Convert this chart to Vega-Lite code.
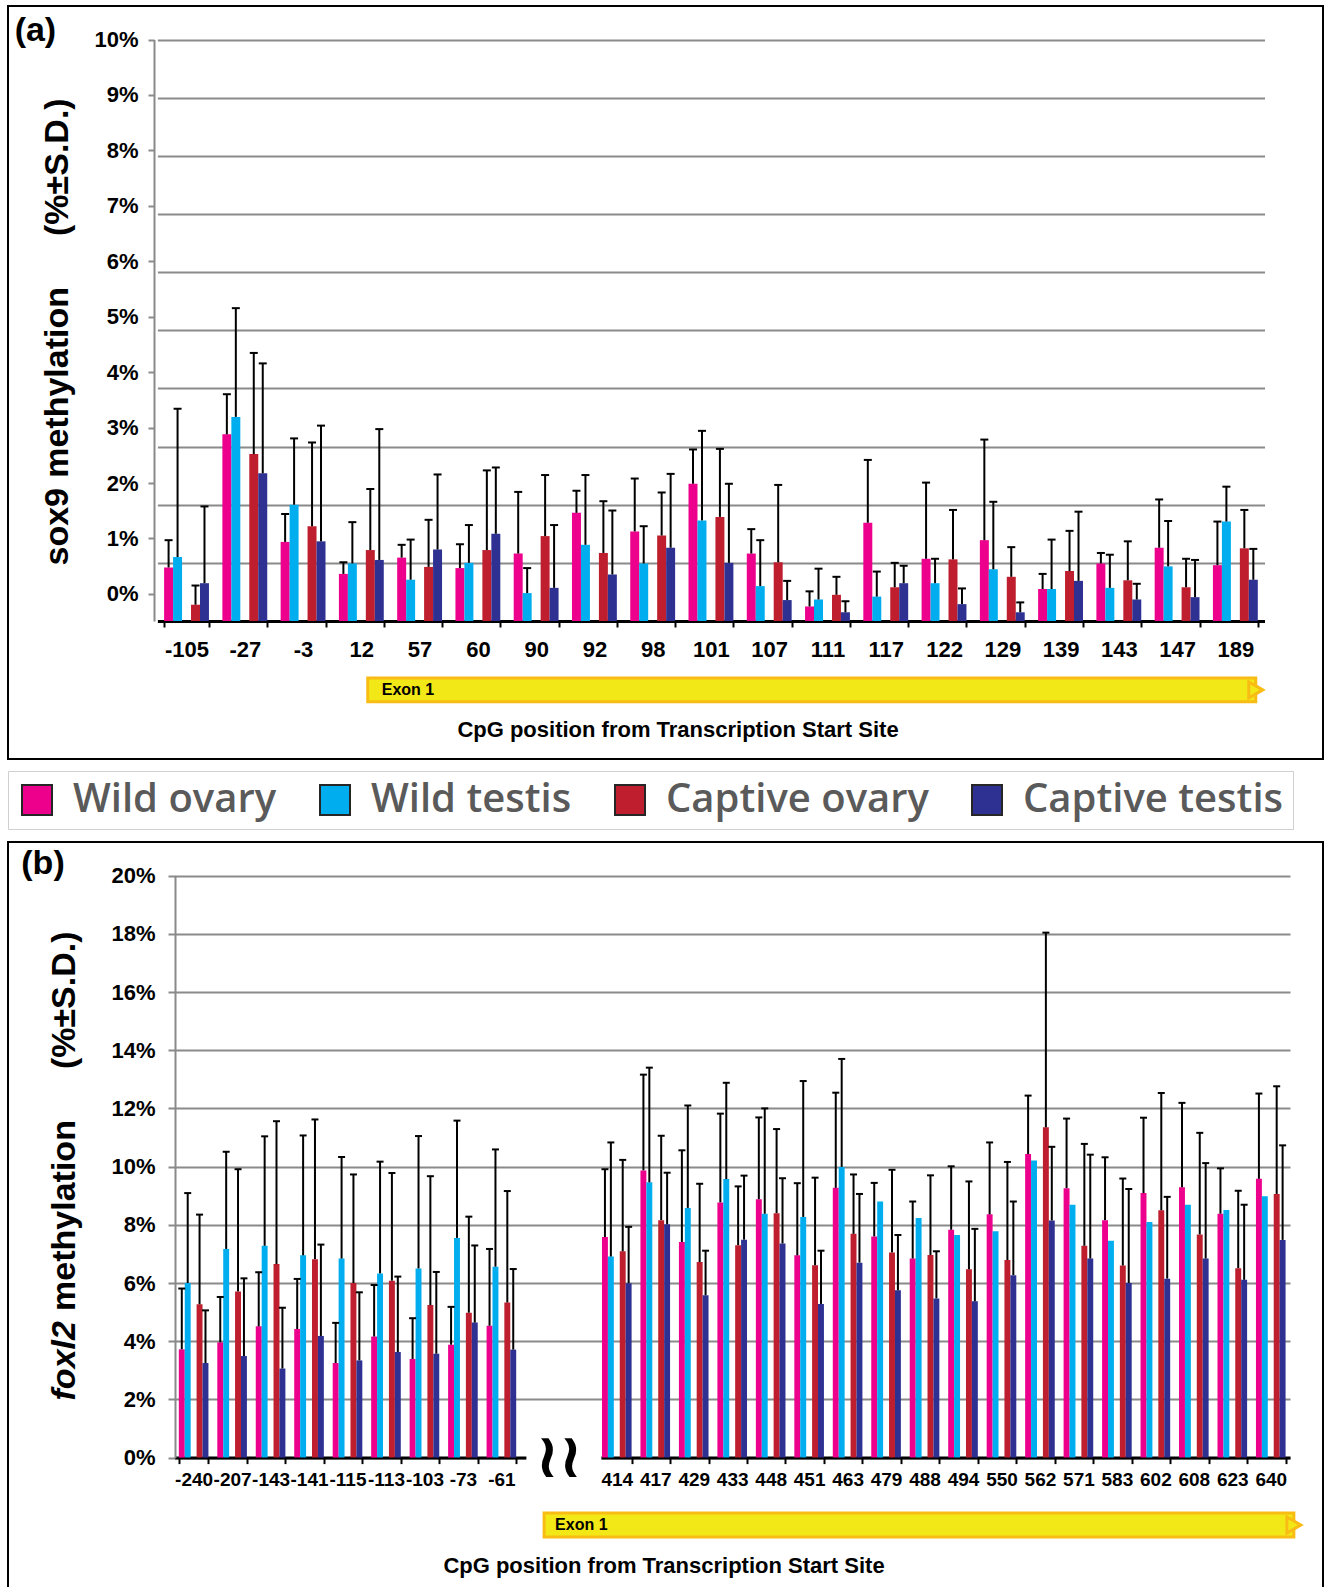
{
  "$schema": "https://vega.github.io/schema/vega-lite/v6.json",
  "padding": {"left": 7, "top": 5, "right": 0, "bottom": 0},
  "spacing": 81,
  "resolve": {"scale": {"xOffset": "independent"}},
  "datasets": {
    "sox9": [
      {"cpg":"-105","group":"Wild ovary","value":0.92,"upper":1.39},{"cpg":"-105","group":"Wild testis","value":1.10,"upper":3.65},{"cpg":"-105","group":"Captive ovary","value":0.28,"upper":0.61},{"cpg":"-105","group":"Captive testis","value":0.65,"upper":1.97},
      {"cpg":"-27","group":"Wild ovary","value":3.21,"upper":3.90},{"cpg":"-27","group":"Wild testis","value":3.51,"upper":5.38},{"cpg":"-27","group":"Captive ovary","value":2.87,"upper":4.61},{"cpg":"-27","group":"Captive testis","value":2.54,"upper":4.43},
      {"cpg":"-3","group":"Wild ovary","value":1.36,"upper":1.84},{"cpg":"-3","group":"Wild testis","value":2.00,"upper":3.14},{"cpg":"-3","group":"Captive ovary","value":1.63,"upper":3.07},{"cpg":"-3","group":"Captive testis","value":1.37,"upper":3.36},
      {"cpg":"12","group":"Wild ovary","value":0.81,"upper":1.01},{"cpg":"12","group":"Wild testis","value":0.99,"upper":1.70},{"cpg":"12","group":"Captive ovary","value":1.22,"upper":2.27},{"cpg":"12","group":"Captive testis","value":1.05,"upper":3.30},
      {"cpg":"57","group":"Wild ovary","value":1.09,"upper":1.31},{"cpg":"57","group":"Wild testis","value":0.71,"upper":1.40},{"cpg":"57","group":"Captive ovary","value":0.93,"upper":1.74},{"cpg":"57","group":"Captive testis","value":1.23,"upper":2.52},
      {"cpg":"60","group":"Wild ovary","value":0.91,"upper":1.32},{"cpg":"60","group":"Wild testis","value":1.00,"upper":1.65},{"cpg":"60","group":"Captive ovary","value":1.22,"upper":2.59},{"cpg":"60","group":"Captive testis","value":1.50,"upper":2.64},
      {"cpg":"90","group":"Wild ovary","value":1.16,"upper":2.22},{"cpg":"90","group":"Wild testis","value":0.48,"upper":0.91},{"cpg":"90","group":"Captive ovary","value":1.46,"upper":2.51},{"cpg":"90","group":"Captive testis","value":0.57,"upper":1.65},
      {"cpg":"92","group":"Wild ovary","value":1.86,"upper":2.24},{"cpg":"92","group":"Wild testis","value":1.31,"upper":2.51},{"cpg":"92","group":"Captive ovary","value":1.17,"upper":2.06},{"cpg":"92","group":"Captive testis","value":0.80,"upper":1.90},
      {"cpg":"98","group":"Wild ovary","value":1.54,"upper":2.45},{"cpg":"98","group":"Wild testis","value":0.99,"upper":1.63},{"cpg":"98","group":"Captive ovary","value":1.47,"upper":2.21},{"cpg":"98","group":"Captive testis","value":1.26,"upper":2.53},
      {"cpg":"101","group":"Wild ovary","value":2.36,"upper":2.95},{"cpg":"101","group":"Wild testis","value":1.73,"upper":3.27},{"cpg":"101","group":"Captive ovary","value":1.79,"upper":2.96},{"cpg":"101","group":"Captive testis","value":1.00,"upper":2.36},
      {"cpg":"107","group":"Wild ovary","value":1.16,"upper":1.58},{"cpg":"107","group":"Wild testis","value":0.60,"upper":1.39},{"cpg":"107","group":"Captive ovary","value":1.01,"upper":2.34},{"cpg":"107","group":"Captive testis","value":0.36,"upper":0.69},
      {"cpg":"111","group":"Wild ovary","value":0.25,"upper":0.51},{"cpg":"111","group":"Wild testis","value":0.37,"upper":0.90},{"cpg":"111","group":"Captive ovary","value":0.45,"upper":0.76},{"cpg":"111","group":"Captive testis","value":0.15,"upper":0.34},
      {"cpg":"117","group":"Wild ovary","value":1.69,"upper":2.77},{"cpg":"117","group":"Wild testis","value":0.42,"upper":0.85},{"cpg":"117","group":"Captive ovary","value":0.58,"upper":1.00},{"cpg":"117","group":"Captive testis","value":0.65,"upper":0.95},
      {"cpg":"122","group":"Wild ovary","value":1.07,"upper":2.38},{"cpg":"122","group":"Wild testis","value":0.65,"upper":1.07},{"cpg":"122","group":"Captive ovary","value":1.06,"upper":1.91},{"cpg":"122","group":"Captive testis","value":0.29,"upper":0.56},
      {"cpg":"129","group":"Wild ovary","value":1.39,"upper":3.12},{"cpg":"129","group":"Wild testis","value":0.89,"upper":2.05},{"cpg":"129","group":"Captive ovary","value":0.76,"upper":1.27},{"cpg":"129","group":"Captive testis","value":0.15,"upper":0.32},
      {"cpg":"139","group":"Wild ovary","value":0.55,"upper":0.81},{"cpg":"139","group":"Wild testis","value":0.55,"upper":1.40},{"cpg":"139","group":"Captive ovary","value":0.86,"upper":1.55},{"cpg":"139","group":"Captive testis","value":0.69,"upper":1.88},
      {"cpg":"143","group":"Wild ovary","value":0.99,"upper":1.17},{"cpg":"143","group":"Wild testis","value":0.57,"upper":1.14},{"cpg":"143","group":"Captive ovary","value":0.70,"upper":1.37},{"cpg":"143","group":"Captive testis","value":0.37,"upper":0.64},
      {"cpg":"147","group":"Wild ovary","value":1.26,"upper":2.09},{"cpg":"147","group":"Wild testis","value":0.94,"upper":1.72},{"cpg":"147","group":"Captive ovary","value":0.58,"upper":1.07},{"cpg":"147","group":"Captive testis","value":0.41,"upper":1.05},
      {"cpg":"189","group":"Wild ovary","value":0.96,"upper":1.71},{"cpg":"189","group":"Wild testis","value":1.71,"upper":2.31},{"cpg":"189","group":"Captive ovary","value":1.25,"upper":1.91},{"cpg":"189","group":"Captive testis","value":0.71,"upper":1.24}
    ],
    "foxl2": [
      {"cpg":"-240","group":"Wild ovary","value":3.72,"upper":5.81},{"cpg":"-240","group":"Wild testis","value":6.00,"upper":9.09},{"cpg":"-240","group":"Captive ovary","value":5.27,"upper":8.35},{"cpg":"-240","group":"Captive testis","value":3.25,"upper":5.06},
      {"cpg":"-207","group":"Wild ovary","value":3.96,"upper":5.52},{"cpg":"-207","group":"Wild testis","value":7.17,"upper":10.51},{"cpg":"-207","group":"Captive ovary","value":5.71,"upper":9.91},{"cpg":"-207","group":"Captive testis","value":3.49,"upper":6.16},
      {"cpg":"-143","group":"Wild ovary","value":4.51,"upper":6.37},{"cpg":"-143","group":"Wild testis","value":7.28,"upper":11.04},{"cpg":"-143","group":"Captive ovary","value":6.65,"upper":11.56},{"cpg":"-143","group":"Captive testis","value":3.06,"upper":5.15},
      {"cpg":"-141","group":"Wild ovary","value":4.42,"upper":6.14},{"cpg":"-141","group":"Wild testis","value":6.95,"upper":11.07},{"cpg":"-141","group":"Captive ovary","value":6.82,"upper":11.62},{"cpg":"-141","group":"Captive testis","value":4.18,"upper":7.32},
      {"cpg":"-115","group":"Wild ovary","value":3.25,"upper":4.63},{"cpg":"-115","group":"Wild testis","value":6.84,"upper":10.33},{"cpg":"-115","group":"Captive ovary","value":6.00,"upper":9.73},{"cpg":"-115","group":"Captive testis","value":3.34,"upper":5.68},
      {"cpg":"-113","group":"Wild ovary","value":4.16,"upper":5.93},{"cpg":"-113","group":"Wild testis","value":6.33,"upper":10.17},{"cpg":"-113","group":"Captive ovary","value":6.08,"upper":9.78},{"cpg":"-113","group":"Captive testis","value":3.63,"upper":6.22},
      {"cpg":"-103","group":"Wild ovary","value":3.39,"upper":4.79},{"cpg":"-103","group":"Wild testis","value":6.50,"upper":11.05},{"cpg":"-103","group":"Captive ovary","value":5.24,"upper":9.67},{"cpg":"-103","group":"Captive testis","value":3.57,"upper":6.38},
      {"cpg":"-73","group":"Wild ovary","value":3.88,"upper":5.18},{"cpg":"-73","group":"Wild testis","value":7.55,"upper":11.58},{"cpg":"-73","group":"Captive ovary","value":4.98,"upper":8.28},{"cpg":"-73","group":"Captive testis","value":4.64,"upper":7.29},
      {"cpg":"-61","group":"Wild ovary","value":4.53,"upper":7.17},{"cpg":"-61","group":"Wild testis","value":6.56,"upper":10.59},{"cpg":"-61","group":"Captive ovary","value":5.33,"upper":9.16},{"cpg":"-61","group":"Captive testis","value":3.71,"upper":6.48},
      {"cpg":"414","group":"Wild ovary","value":7.58,"upper":9.91},{"cpg":"414","group":"Wild testis","value":6.91,"upper":10.83},{"cpg":"414","group":"Captive ovary","value":7.09,"upper":10.23},{"cpg":"414","group":"Captive testis","value":5.99,"upper":7.93},
      {"cpg":"417","group":"Wild ovary","value":9.87,"upper":13.16},{"cpg":"417","group":"Wild testis","value":9.46,"upper":13.40},{"cpg":"417","group":"Captive ovary","value":8.16,"upper":11.06},{"cpg":"417","group":"Captive testis","value":8.02,"upper":9.79},
      {"cpg":"429","group":"Wild ovary","value":7.41,"upper":10.56},{"cpg":"429","group":"Wild testis","value":8.58,"upper":12.10},{"cpg":"429","group":"Captive ovary","value":6.72,"upper":9.41},{"cpg":"429","group":"Captive testis","value":5.58,"upper":7.11},
      {"cpg":"433","group":"Wild ovary","value":8.77,"upper":11.82},{"cpg":"433","group":"Wild testis","value":9.57,"upper":12.88},{"cpg":"433","group":"Captive ovary","value":7.30,"upper":9.32},{"cpg":"433","group":"Captive testis","value":7.49,"upper":9.69},
      {"cpg":"448","group":"Wild ovary","value":8.88,"upper":11.69},{"cpg":"448","group":"Wild testis","value":8.38,"upper":12.00},{"cpg":"448","group":"Captive ovary","value":8.40,"upper":11.29},{"cpg":"448","group":"Captive testis","value":7.36,"upper":9.60},
      {"cpg":"451","group":"Wild ovary","value":6.95,"upper":9.43},{"cpg":"451","group":"Wild testis","value":8.27,"upper":12.94},{"cpg":"451","group":"Captive ovary","value":6.61,"upper":9.62},{"cpg":"451","group":"Captive testis","value":5.28,"upper":7.11},
      {"cpg":"463","group":"Wild ovary","value":9.27,"upper":12.54},{"cpg":"463","group":"Wild testis","value":9.99,"upper":13.70},{"cpg":"463","group":"Captive ovary","value":7.69,"upper":9.73},{"cpg":"463","group":"Captive testis","value":6.70,"upper":9.06},
      {"cpg":"479","group":"Wild ovary","value":7.60,"upper":9.44},{"cpg":"479","group":"Wild testis","value":8.80,"upper":null},{"cpg":"479","group":"Captive ovary","value":7.05,"upper":9.89},{"cpg":"479","group":"Captive testis","value":5.75,"upper":7.65},
      {"cpg":"488","group":"Wild ovary","value":6.84,"upper":8.80},{"cpg":"488","group":"Wild testis","value":8.23,"upper":null},{"cpg":"488","group":"Captive ovary","value":6.96,"upper":9.70},{"cpg":"488","group":"Captive testis","value":5.47,"upper":7.09},
      {"cpg":"494","group":"Wild ovary","value":7.83,"upper":10.01},{"cpg":"494","group":"Wild testis","value":7.65,"upper":null},{"cpg":"494","group":"Captive ovary","value":6.47,"upper":9.49},{"cpg":"494","group":"Captive testis","value":5.37,"upper":7.86},
      {"cpg":"550","group":"Wild ovary","value":8.36,"upper":10.83},{"cpg":"550","group":"Wild testis","value":7.78,"upper":null},{"cpg":"550","group":"Captive ovary","value":6.79,"upper":10.16},{"cpg":"550","group":"Captive testis","value":6.27,"upper":8.80},
      {"cpg":"562","group":"Wild ovary","value":10.43,"upper":12.44},{"cpg":"562","group":"Wild testis","value":10.21,"upper":null},{"cpg":"562","group":"Captive ovary","value":11.35,"upper":18.04},{"cpg":"562","group":"Captive testis","value":8.15,"upper":10.68},
      {"cpg":"571","group":"Wild ovary","value":9.26,"upper":11.65},{"cpg":"571","group":"Wild testis","value":8.69,"upper":null},{"cpg":"571","group":"Captive ovary","value":7.28,"upper":10.78},{"cpg":"571","group":"Captive testis","value":6.84,"upper":10.41},
      {"cpg":"583","group":"Wild ovary","value":8.16,"upper":10.32},{"cpg":"583","group":"Wild testis","value":7.45,"upper":null},{"cpg":"583","group":"Captive ovary","value":6.60,"upper":9.59},{"cpg":"583","group":"Captive testis","value":6.00,"upper":9.23},
      {"cpg":"602","group":"Wild ovary","value":9.09,"upper":11.68},{"cpg":"602","group":"Wild testis","value":8.10,"upper":null},{"cpg":"602","group":"Captive ovary","value":8.50,"upper":12.53},{"cpg":"602","group":"Captive testis","value":6.15,"upper":8.96},
      {"cpg":"608","group":"Wild ovary","value":9.29,"upper":12.19},{"cpg":"608","group":"Wild testis","value":8.69,"upper":null},{"cpg":"608","group":"Captive ovary","value":7.67,"upper":11.16},{"cpg":"608","group":"Captive testis","value":6.84,"upper":10.12},
      {"cpg":"623","group":"Wild ovary","value":8.38,"upper":9.94},{"cpg":"623","group":"Wild testis","value":8.51,"upper":null},{"cpg":"623","group":"Captive ovary","value":6.51,"upper":9.17},{"cpg":"623","group":"Captive testis","value":6.11,"upper":8.69},
      {"cpg":"640","group":"Wild ovary","value":9.58,"upper":12.51},{"cpg":"640","group":"Wild testis","value":8.98,"upper":null},{"cpg":"640","group":"Captive ovary","value":9.06,"upper":12.76},{"cpg":"640","group":"Captive testis","value":7.48,"upper":10.73}
    ]
  },
  "config": {
    "view": {"stroke": "#000000", "strokeWidth": 2},
    "font": "Liberation Sans",
    "axis": {"labelFont": "Liberation Sans", "labelFontWeight": "bold", "labelColor": "#000000", "titleFont": "Liberation Sans", "titleFontWeight": "bold", "titleColor": "#000000"}
  },
  "vconcat": [
    {
      "width": 1315,
      "height": 753,
      "layer": [
        {
          "data": {"name": "sox9"},
          "encoding": {
            "x": {"field": "cpg", "type": "nominal",
              "scale": {"domain": ["-105","-27","-3","12","57","60","90","92","98","101","107","111","117","122","129","139","143","147","189"], "range": [149.4, 1256.5], "paddingInner": 0.23, "paddingOuter": 0.115},
              "axis": {"orient": "bottom", "offset": -138, "domainColor": "#000000", "domainWidth": 3, "tickColor": "#000000", "tickWidth": 2, "tickSize": 6, "tickBand": "extent", "labelAngle": 0, "labelFontSize": 22, "labelPadding": 12, "labelOverlap": false, "grid": false,
                "title": "CpG position from Transcription Start Site", "titleFontSize": 22, "titleX": 669.5, "titleY": 108, "titleAlign": "center", "titleBaseline": "middle"}},
            "xOffset": {"field": "group", "type": "nominal", "scale": {"domain": ["Wild ovary","Wild testis","gap","Captive ovary","Captive testis"], "paddingInner": 0, "paddingOuter": 0}}
          },
          "layer": [
            {
              "mark": {"type": "bar"},
              "encoding": {
                "y": {"field": "value", "type": "quantitative", "scale": {"domain": [0, 10], "range": [615, 33.5], "nice": false},
                  "axis": {"orient": "left", "offset": -146, "values": [1,2,3,4,5,6,7,8,9,10], "grid": true, "gridColor": "#8a8a8a", "gridWidth": 2, "domain": true, "domainColor": "#8a8a8a", "domainWidth": 2, "ticks": false, "labels": false,
                    "title": "sox9", "titleFontSize": 34, "titleX": -97, "titleY": 481.5, "titleAngle": -90, "titleAlign": "right", "titleBaseline": "middle"}},
                "color": {"field": "group", "type": "nominal",
                  "scale": {"domain": ["Wild ovary","Wild testis","Captive ovary","Captive testis"], "range": ["#EC008C","#00AEEF","#BE1E2D","#2E3192"]},
                  "legend": {"orient": "none", "legendX": 0, "legendY": 765, "direction": "horizontal", "columns": 4, "title": null, "symbolType": "square", "symbolSize": 900, "symbolStrokeColor": "#262626", "symbolStrokeWidth": 2, "symbolOpacity": 1, "labelFont": "Open Sans", "labelFontSize": 40, "labelFontWeight": 600, "labelColor": "#5a5a5a", "labelOffset": 16, "labelLimit": 0, "columnPadding": 38, "padding": 9, "strokeColor": "#d0d0d0"}}
              }
            },
            {
              "transform": [{"filter": "isValid(datum.upper)"}],
              "mark": {"type": "rule", "color": "#000000", "strokeWidth": 2},
              "encoding": {"y": {"field": "value", "type": "quantitative"}, "y2": {"field": "upper"}}
            },
            {
              "transform": [{"filter": "isValid(datum.upper)"}],
              "mark": {"type": "tick", "color": "#000000", "thickness": 2, "size": 8, "opacity": 1},
              "encoding": {"y": {"field": "upper", "type": "quantitative"}}
            }
          ]
        },
        {
          "data": {"values": [{"value": 0}]},
          "mark": {"type": "point", "opacity": 0},
          "encoding": {
            "y": {"field": "value", "type": "quantitative", "scale": {"domain": [-0.488, 10], "range": [615, 33.5], "nice": false, "zero": false},
              "axis": {"orient": "left", "offset": -146, "values": [0,1,2,3,4,5,6,7,8,9,10], "labelExpr": "datum.value + '%'", "grid": false, "domain": false, "ticks": true, "tickColor": "#8a8a8a", "tickWidth": 2, "tickSize": 6, "labelFontSize": 22, "labelPadding": 10,
                "title": "methylation\u2003\u2002(%±S.D.)", "titleFontSize": 34, "titleX": -97, "titleY": 471.3, "titleAngle": -90, "titleAlign": "left", "titleBaseline": "middle"}}
          }
        },
        {
          "data": {"values": [{"feature": "Exon 1", "start": 3.61, "end": 18.85, "panel": "(a)", "panelX": -2.45, "panelY": 10.44}]},
          "layer": [
            {
              "mark": {"type": "rect", "fill": "#F3E817", "stroke": "#F8BC14", "strokeWidth": 3},
              "encoding": {
                "x": {"field": "start", "type": "quantitative", "scale": {"domain": [0, 19], "range": [149.4, 1256.5], "nice": false, "zero": false}, "axis": null},
                "x2": {"field": "end"},
                "y": {"datum": -0.98, "type": "quantitative", "scale": {"domain": [0, 10], "range": [615, 33.5], "nice": false}, "axis": null},
                "y2": {"datum": -1.39}
              }
            },
            {
              "mark": {"type": "point", "shape": "triangle-right", "filled": true, "fill": "#F3E817", "stroke": "#F8BC14", "strokeWidth": 3, "size": 260, "opacity": 1},
              "encoding": {"x": {"field": "end", "type": "quantitative"}, "y": {"datum": -1.185, "type": "quantitative"}}
            },
            {
              "mark": {"type": "text", "align": "left", "baseline": "middle", "dx": 14, "fontSize": 16, "fontWeight": "bold", "font": "Liberation Sans", "color": "#000000"},
              "encoding": {"x": {"field": "start", "type": "quantitative"}, "y": {"datum": -1.185, "type": "quantitative"}, "text": {"field": "feature"}}
            },
            {
              "mark": {"type": "text", "align": "left", "baseline": "top", "fontSize": 34, "fontWeight": "bold", "font": "Liberation Sans", "color": "#000000"},
              "encoding": {"x": {"field": "panelX", "type": "quantitative"}, "y": {"field": "panelY", "type": "quantitative"}, "text": {"field": "panel"}}
            }
          ]
        }
      ],
      "resolve": {"scale": {"x": "independent", "y": "independent"}}
    },
    {
      "width": 1315,
      "height": 747,
      "layer": [
        {
          "data": {"name": "foxl2"},
          "encoding": {
            "x": {"field": "cpg", "type": "nominal",
              "scale": {"domain": ["-240","-207","-143","-141","-115","-113","-103","-73","-61","gap1","gap2","414","417","429","433","448","451","463","479","488","494","550","562","571","583","602","608","623","640"], "range": [166.4, 1282], "paddingInner": 0.23, "paddingOuter": 0.115},
              "axis": {"orient": "bottom", "offset": -131.4, "domainColor": "#000000", "domainWidth": 3, "tickColor": "#000000", "tickWidth": 2, "tickSize": 6, "tickBand": "extent", "labelAngle": 0, "labelFontSize": 19, "labelPadding": 7, "labelOverlap": false, "grid": false,
                "labelExpr": "indexof(datum.label, 'gap') == 0 ? '' : datum.label",
                "title": "CpG position from Transcription Start Site", "titleFontSize": 22, "titleX": 655.5, "titleY": 107.4, "titleAlign": "center", "titleBaseline": "middle"}},
            "xOffset": {"field": "group", "type": "nominal", "scale": {"domain": ["Wild ovary","Wild testis","gap","Captive ovary","Captive testis"], "paddingInner": 0, "paddingOuter": 0}}
          },
          "layer": [
            {
              "mark": {"type": "bar"},
              "encoding": {
                "y": {"field": "value", "type": "quantitative", "scale": {"domain": [0, 20], "range": [615.6, 33.6], "nice": false},
                  "axis": {"orient": "left", "offset": -167, "values": [0,2,4,6,8,10,12,14,16,18,20], "labelExpr": "datum.value + '%'", "grid": true, "gridColor": "#8a8a8a", "gridWidth": 2, "domain": true, "domainColor": "#8a8a8a", "domainWidth": 2, "ticks": true, "tickColor": "#8a8a8a", "tickWidth": 2, "tickSize": 7, "labelFontSize": 22, "labelPadding": 13,
                    "title": "foxl2", "titleFontStyle": "italic", "titleFontSize": 34, "titleX": -111, "titleY": 478.6, "titleAngle": -90, "titleAlign": "right", "titleBaseline": "middle"}},
                "color": {"field": "group", "type": "nominal",
                  "scale": {"domain": ["Wild ovary","Wild testis","Captive ovary","Captive testis"], "range": ["#EC008C","#00AEEF","#BE1E2D","#2E3192"]},
                  "legend": {"orient": "none", "legendX": 0, "legendY": 765, "direction": "horizontal", "columns": 4, "title": null, "symbolType": "square", "symbolSize": 900, "symbolStrokeColor": "#262626", "symbolStrokeWidth": 2, "symbolOpacity": 1, "labelFont": "Open Sans", "labelFontSize": 40, "labelFontWeight": 600, "labelColor": "#5a5a5a", "labelOffset": 16, "labelLimit": 0, "columnPadding": 38, "padding": 9, "strokeColor": "#d0d0d0"}}
              }
            },
            {
              "transform": [{"filter": "isValid(datum.upper)"}],
              "mark": {"type": "rule", "color": "#000000", "strokeWidth": 2},
              "encoding": {"y": {"field": "value", "type": "quantitative"}, "y2": {"field": "upper"}}
            },
            {
              "transform": [{"filter": "isValid(datum.upper)"}],
              "mark": {"type": "tick", "color": "#000000", "thickness": 2, "size": 7, "opacity": 1},
              "encoding": {"y": {"field": "upper", "type": "quantitative"}}
            }
          ]
        },
        {
          "data": {"values": [{"value": 0}]},
          "mark": {"type": "point", "opacity": 0},
          "encoding": {
            "y": {"field": "value", "type": "quantitative", "scale": {"domain": [0, 20], "range": [615.6, 33.6], "nice": false},
              "axis": {"orient": "left", "offset": -167, "labels": false, "ticks": false, "grid": false, "domain": false,
                "title": "methylation\u2003\u2002(%±S.D.)", "titleFontSize": 34, "titleX": -111, "titleY": 468.4, "titleAngle": -90, "titleAlign": "left", "titleBaseline": "middle"}}
          }
        },
        {
          "data": {"values": [{"feature": "Exon 1", "start": 9.61, "end": 29.1, "gapStart": 9.15, "gapEnd": 11.1, "breakAt": 10.0, "breakMark": "≀≀", "panel": "(b)", "panelX": -3.98, "panelY": 20.98}]},
          "layer": [
            {
              "mark": {"type": "rect", "fill": "#ffffff"},
              "encoding": {
                "x": {"field": "gapStart", "type": "quantitative", "scale": {"domain": [0, 29], "range": [166.4, 1282], "nice": false, "zero": false}, "axis": null},
                "x2": {"field": "gapEnd"},
                "y": {"datum": 0.12, "type": "quantitative", "scale": {"domain": [0, 20], "range": [615.6, 33.6], "nice": false}, "axis": null},
                "y2": {"datum": -0.3}
              }
            },
            {
              "mark": {"type": "text", "align": "center", "baseline": "middle", "fontSize": 62, "fontWeight": "bold", "font": "DejaVu Sans", "color": "#000000"},
              "encoding": {"x": {"field": "breakAt", "type": "quantitative"}, "y": {"datum": 0, "type": "quantitative"}, "text": {"field": "breakMark"}}
            },
            {
              "mark": {"type": "rect", "fill": "#F3E817", "stroke": "#F8BC14", "strokeWidth": 3},
              "encoding": {"x": {"field": "start", "type": "quantitative"}, "x2": {"field": "end"}, "y": {"datum": -1.9, "type": "quantitative"}, "y2": {"datum": -2.73}}
            },
            {
              "mark": {"type": "point", "shape": "triangle-right", "filled": true, "fill": "#F3E817", "stroke": "#F8BC14", "strokeWidth": 3, "size": 260, "opacity": 1},
              "encoding": {"x": {"field": "end", "type": "quantitative"}, "y": {"datum": -2.315, "type": "quantitative"}}
            },
            {
              "mark": {"type": "text", "align": "left", "baseline": "middle", "dx": 11, "fontSize": 16, "fontWeight": "bold", "font": "Liberation Sans", "color": "#000000"},
              "encoding": {"x": {"field": "start", "type": "quantitative"}, "y": {"datum": -2.315, "type": "quantitative"}, "text": {"field": "feature"}}
            },
            {
              "mark": {"type": "text", "align": "left", "baseline": "top", "fontSize": 34, "fontWeight": "bold", "font": "Liberation Sans", "color": "#000000"},
              "encoding": {"x": {"field": "panelX", "type": "quantitative"}, "y": {"field": "panelY", "type": "quantitative"}, "text": {"field": "panel"}}
            }
          ]
        }
      ],
      "resolve": {"scale": {"x": "independent", "y": "independent"}}
    }
  ]
}
